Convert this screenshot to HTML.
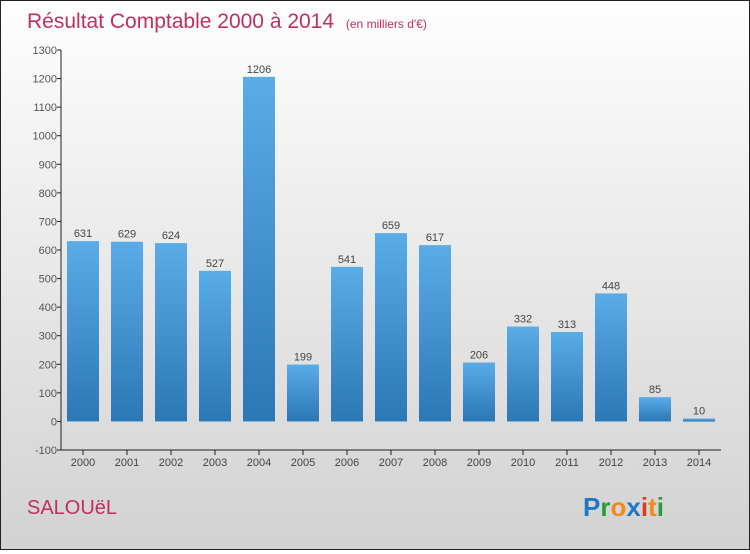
<!DOCTYPE html>
<html><head><meta charset="utf-8"><style>
html,body{margin:0;padding:0;}
body{width:750px;height:550px;overflow:hidden;font-family:"Liberation Sans",sans-serif;}
#wrap{position:absolute;left:0;top:0;width:748px;height:548px;border:1px solid #222;background:linear-gradient(#fefefe,#d2d2d2);}
</style></head><body>
<div id="wrap">
<svg id="chart" width="748" height="548">
<defs><linearGradient id="bg" x1="0" y1="0" x2="0" y2="1"><stop offset="0" stop-color="#5aace6"/><stop offset="1" stop-color="#2a78b4"/></linearGradient></defs>
<text x="26" y="27" font-size="21" fill="#c0305e">Résultat Comptable 2000 à 2014 <tspan font-size="12" dx="6">(en milliers d'€)</tspan></text>
<g id="grid"></g><g id="bars"></g><g id="axes"></g>
<text x="26" y="513" font-size="20" fill="#c0305e">SALOUëL</text>
<text x="582" y="515" font-size="26" font-weight="bold"><tspan fill="#1e78c8">P</tspan><tspan fill="#2a9a3a">r</tspan><tspan fill="#f08a1a">o</tspan><tspan fill="#1e78c8">x</tspan><tspan fill="#e03a1a">i</tspan><tspan fill="#f08a1a">t</tspan><tspan fill="#2a9a3a">i</tspan></text>
</svg></div>
<script>
const years=["2000","2001","2002","2003","2004","2005","2006","2007","2008","2009","2010","2011","2012","2013","2014"];
const values=[631,629,624,527,1206,199,541,659,617,206,332,313,448,85,10];
const yTicks=[-100,0,100,200,300,400,500,600,700,800,900,1000,1100,1200,1300];
const NS="http://www.w3.org/2000/svg";
const x0=60,x1=720,yTop=49,yBot=449,vMin=-100,vMax=1300;
function y(v){return yBot-(v-vMin)/(vMax-vMin)*(yBot-yTop);}
function xc(i){return 82+i*(x1-x0)/years.length;}
function mk(t,a,p){const e=document.createElementNS(NS,t);for(const k in a)e.setAttribute(k,a[k]);p.appendChild(e);return e;}
const g=document.getElementById('grid'),b=document.getElementById('bars'),ax=document.getElementById('axes');
yTicks.forEach(v=>{
 mk('line',{x1:x0-4,x2:x0,y1:y(v),y2:y(v),stroke:'#222'},ax);
 const t=mk('text',{x:x0-4,y:y(v)+4,'text-anchor':'end','font-size':11,fill:'#555'},ax);t.textContent=v;
 
 
});
values.forEach((v,i)=>{
 const bw=32,top=y(Math.max(v,0)),h=Math.abs(y(v)-y(0));
 const r=mk('rect',{x:xc(i)-bw/2,y:top,width:bw,height:Math.max(h,3),fill:'url(#bg)'},b);
 
 
 const t=mk('text',{x:xc(i),y:top-4,'text-anchor':'middle','font-size':11,fill:'#444'},b);t.textContent=v;
 
 
 mk('line',{x1:xc(i),x2:xc(i),y1:yBot,y2:yBot+5,stroke:'#222'},ax);
 const xl=mk('text',{x:xc(i),y:yBot+16,'text-anchor':'middle','font-size':11,fill:'#444'},ax);xl.textContent=years[i];
 
 
});
const ya=mk('line',{x1:x0,x2:x0,y1:yTop,y2:yBot,stroke:'#222'},ax);


const xa=mk('line',{x1:x0,x2:x1,y1:yBot,y2:yBot,stroke:'#222'},ax);


</script>
</body></html>
